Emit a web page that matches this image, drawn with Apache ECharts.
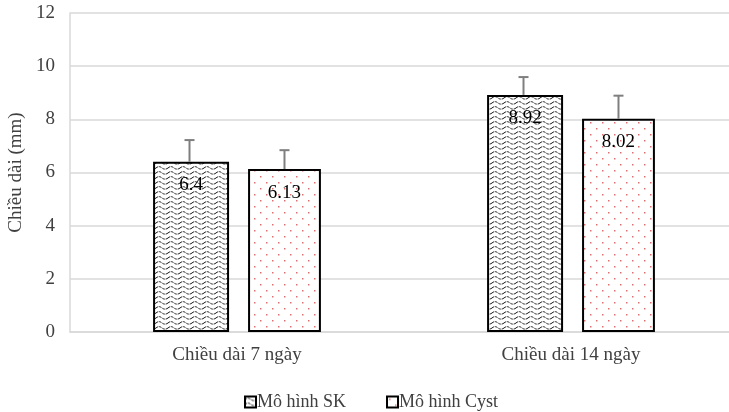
<!DOCTYPE html>
<html>
<head>
<meta charset="utf-8">
<script src="https://cdn.jsdelivr.net/npm/echarts@6/dist/echarts.min.js"></script>
<style>html,body{margin:0;padding:0;background:#fff}#c{width:729px;height:412px}</style>
</head>
<body>
<div id="c"></div>
<script>
var categories = ['Chiều dài 7 ngày', 'Chiều dài 14 ngày'];
var seriesNames = ['Mô hình SK', 'Mô hình Cyst'];
var skValues = [6.4, 8.92];
var cystValues = [6.13, 8.02];
var skErrors = [0.82, 0.67];
var cystErrors = [0.71, 0.87];
var yTicks = [0, 2, 4, 6, 8, 10, 12];

function wavePattern() {
  var c = document.createElement('canvas');
  c.width = 12; c.height = 5;
  var g = c.getContext('2d');
  g.fillStyle = '#fff'; g.fillRect(0, 0, 12, 5);
  g.strokeStyle = '#000'; g.lineWidth = 0.9;
  g.setLineDash([2.5, 1]);
  g.beginPath();
  g.moveTo(0, 3);
  g.bezierCurveTo(2, 1.2, 4, 1.2, 6, 3);
  g.bezierCurveTo(8, 4.5, 10, 4.5, 12, 3);
  g.stroke();
  return c;
}
function dotPattern() {
  var c = document.createElement('canvas');
  c.width = 12; c.height = 12;
  var g = c.getContext('2d');
  g.fillStyle = '#fff'; g.fillRect(0, 0, 12, 12);
  g.fillStyle = '#e07070';
  g.fillRect(2, 2, 1.5, 1.5);
  g.fillRect(8, 8, 1.5, 1.5);
  return c;
}
var font = '"Liberation Serif", "Times New Roman", serif';
var barW = 0.2275, gapR = 0.25;
var fs = 19;

function errSeries(vals, errs, side) {
  var data = vals.map(function (v, i) { return [i, v, errs[i]]; });
  return {
    type: 'custom', silent: true, z: 5,
    data: data,
    renderItem: function (params, api) {
      var band = api.size([1, 0])[0];
      var bw = band * barW;
      var off = side * (bw / 2 + bw * gapR / 2);
      var base = api.coord([api.value(0), api.value(1)]);
      var top = api.coord([api.value(0), api.value(1) + api.value(2)]);
      var x = base[0] + off;
      var st = { stroke: '#7f7f7f', lineWidth: 2 };
      return { type: 'group', children: [
        { type: 'line', shape: { x1: x, y1: base[1], x2: x, y2: top[1] }, style: st },
        { type: 'line', shape: { x1: x - 5, y1: top[1], x2: x + 5, y2: top[1] }, style: st }
      ] };
    }
  };
}

var chart = echarts.init(document.getElementById('c'), null, { renderer: 'canvas' });
var wave = wavePattern(), dots = dotPattern();
chart.setOption({
  animation: false,
  textStyle: { fontFamily: font },
  grid: { left: 70, top: 13, width: 668, height: 319, containLabel: false, outerBoundsMode: 'none' },
  legend: {
    data: seriesNames, left: 239, top: 388, itemWidth: 11, itemHeight: 11, itemGap: 40,
    icon: 'rect',
    textStyle: { fontFamily: font, fontSize: 18, color: '#404040', padding: [0, 0, 0, -4] }
  },
  xAxis: {
    type: 'category', data: categories,
    axisLine: { lineStyle: { color: '#d9d9d9', width: 1.5 } },
    axisTick: { show: false },
    axisLabel: { fontFamily: font, fontSize: fs, color: '#404040', margin: 14 }
  },
  yAxis: {
    type: 'value', min: yTicks[0], max: yTicks[yTicks.length - 1], interval: 2,
    name: 'Chiều dài (mm)', nameLocation: 'middle', nameGap: 41, nameRotate: 90,
    nameTextStyle: { fontFamily: font, fontSize: fs, color: '#404040' },
    axisLine: { show: true, lineStyle: { color: '#d9d9d9', width: 1.5 } },
    axisLabel: { fontFamily: font, fontSize: fs, color: '#404040', margin: 15 },
    splitLine: { lineStyle: { color: '#d9d9d9', width: 1.5 } }
  },
  series: [
    {
      name: seriesNames[0], type: 'bar', data: skValues,
      barWidth: (barW * 100) + '%', barGap: (gapR * 100) + '%',
      itemStyle: { color: { image: wave, repeat: 'repeat' }, borderColor: '#000', borderWidth: 2 },
      label: { show: true, position: 'insideTop', distance: 14, fontFamily: font, fontSize: fs, color: '#000' }
    },
    {
      name: seriesNames[1], type: 'bar', data: cystValues,
      itemStyle: { color: { image: dots, repeat: 'repeat' }, borderColor: '#000', borderWidth: 2 },
      label: { show: true, position: 'insideTop', distance: 14, fontFamily: font, fontSize: fs, color: '#000' }
    },
    errSeries(skValues, skErrors, -1),
    errSeries(cystValues, cystErrors, 1)
  ]
});
</script>
</body>
</html>
